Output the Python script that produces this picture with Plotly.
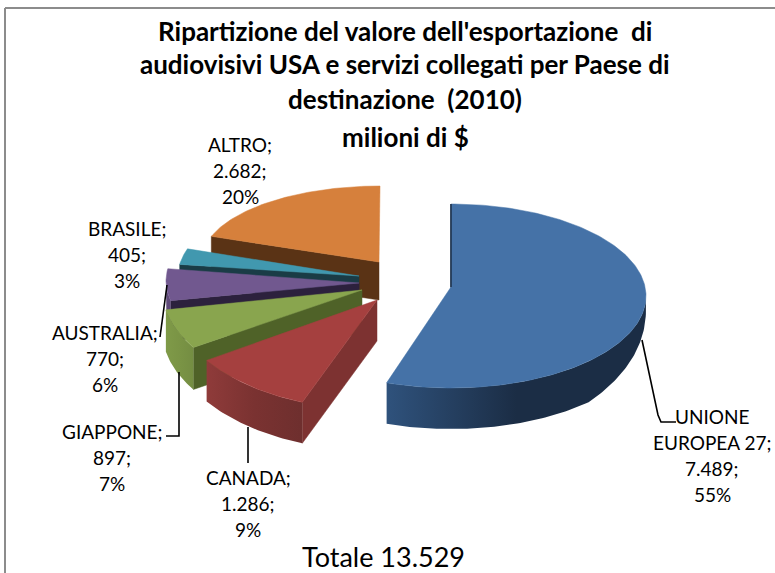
import math
import plotly.graph_objects as go

# --- data ---
categories = ["UNIONE EUROPEA 27", "CANADA", "GIAPPONE", "AUSTRALIA", "BRASILE", "ALTRO"]
values = [7489, 1286, 897, 770, 405, 2682]
value_labels = ["7.489", "1.286", "897", "770", "405", "2.682"]
percent_labels = ["55%", "9%", "7%", "6%", "3%", "20%"]
title_lines = ["Ripartizione del valore dell'esportazione  di",
               "audiovisivi USA e servizi collegati per Paese di",
               "destinazione  (2010)", "milioni di $"]
total_label = "Totale 13.529"

# --- styling / drawing geometry (pixel-based hidden axes) ---
top_colors = ["#4572a7", "#a5403f", "#89a54e", "#71588f", "#4198af", "#d6803c"]
edge_colors = ["#1c3048", "#7d3231", "#4f6228", "#2c213d", "#1a3c46", "#5a3315"]
arc_stops = [["#2f527c", "#1b2d45", "#1b2d45"], ["#8f3b3a", "#7a3231", "#6e2f2e"],
             ["#7f9a48", "#7a9445", "#748d42"], ["#5f4a79", "#5f4a79", "#5f4a79"],
             ["#37808f", "#37808f", "#37808f"], ["#5a3315", "#5a3315", "#5a3315"]]
apex = [(451, 287), (377, 300), (362, 290), (359, 283), (359, 276), (379, 262)]
ellipse = [(451, 296, 195, 92), (369, 289, 202, 120), (322, 288, 160, 100),
           (358, 281, 192, 90), (359, 276, 181, 85), (380, 260, 178, 74)]
depth = [41, 41, 42, 40, 24, 38]
draw_order = [5, 4, 3, 2, 1, 0]

label_pos = [(712, 416), (248, 477), (112, 431), (105, 332), (127, 228), (240, 144)]
label_step = 26
leaders = [([642, 658, 661, 676], [340, 415, 422, 422]),
           ([248, 248], [427, 463]),
           ([179, 179, 166], [372, 436, 436]),
           ([167, 160], [285, 337])]

FONT = "Lato, Carlito, Calibri, sans-serif"
total = sum(values)
bounds = [0.0]
for v in values:
    bounds.append(bounds[-1] + v / total * 360.0)


def pt(i, deg):
    ex, ey, a, b = ellipse[i]
    r = math.radians(deg)
    return ex + a * math.sin(r), ey - b * math.cos(r)


def arc(i, d0, d1):
    n = max(2, int(abs(d1 - d0)) + 1)
    return [pt(i, d0 + (d1 - d0) * k / (n - 1)) for k in range(n)]


def wall_depth(deg, d):
    # the rim wall narrows towards the far right because of the perspective
    return d * min(1.0, 0.3 + 0.7 * (max(deg - 90, 0) / 45) ** 0.8)


def poly(pts, color=None, grad=None):
    xs = [p[0] for p in pts] + [pts[0][0]]
    ys = [p[1] for p in pts] + [pts[0][1]]
    kw = dict(x=xs, y=ys, mode="lines", fill="toself", hoverinfo="skip", showlegend=False)
    if grad:
        lo, hi = min(xs), max(xs)
        kw["fillgradient"] = dict(type="horizontal", start=lo, stop=hi,
                                  colorscale=[[0, grad[0]], [0.5, grad[1]], [1, grad[2]]])
        kw["line"] = dict(width=0)
    else:
        kw["fillcolor"] = color
        kw["line"] = dict(width=0.5, color=color)
    return go.Scatter(**kw)


fig = go.Figure()
for i in draw_order:
    d0, d1 = bounds[i], bounds[i + 1]
    ax, ay = apex[i]
    d = depth[i]
    # radial side wall at the slice's start edge
    ox, oy = pt(i, d0)
    fig.add_trace(poly([(ox, oy), (ax, ay), (ax, ay + d), (ox, oy + d)], edge_colors[i]))
    # outer curved wall
    w0, w1 = max(d0, 90), min(d1, 270)
    if w1 > w0:
        n = max(2, int(w1 - w0) + 1)
        degs = [w0 + (w1 - w0) * k / (n - 1) for k in range(n)]
        upper = [pt(i, g) for g in degs]
        lower = [(pt(i, g)[0], pt(i, g)[1] + wall_depth(g, d)) for g in reversed(degs)]
        fig.add_trace(poly(upper + lower, grad=arc_stops[i]))
    # top face
    fig.add_trace(poly([(ax, ay)] + arc(i, d0, d1), top_colors[i]))
    if i == 0:  # thin dark sliver along the vertical edge
        tx, ty = pt(i, d0)
        fig.add_trace(go.Scatter(x=[tx, ax], y=[ty, ay], mode="lines", hoverinfo="skip",
                                 showlegend=False, line=dict(color=edge_colors[0], width=1.5)))

for lx, ly in leaders:
    fig.add_trace(go.Scatter(x=lx, y=ly, mode="lines", hoverinfo="skip", showlegend=False,
                             line=dict(color="#000000", width=1.6)))

annotations = []
for i, c in enumerate(categories):
    names = ["UNIONE", "EUROPEA 27;"] if i == 0 else [c + ";"]
    lines = names + [value_labels[i] + ";", percent_labels[i]]
    for k, line in enumerate(lines):
        annotations.append(dict(x=label_pos[i][0], y=label_pos[i][1] + k * label_step, text=line,
                                showarrow=False, xanchor="center", yanchor="middle",
                                font=dict(family=FONT, size=19, color="#000000")))
for line, y in zip(title_lines, [31, 64, 99, 137]):
    annotations.append(dict(x=405, y=y, text=f"<b>{line}</b>", showarrow=False,
                            xanchor="center", yanchor="middle",
                            font=dict(family=FONT, size=26, color="#000000")))
annotations.append(dict(x=383, y=556, text=total_label, showarrow=False, xanchor="center",
                        yanchor="middle", font=dict(family=FONT, size=27, color="#000000")))

fig.update_layout(
    width=775, height=573, margin=dict(l=0, r=0, t=0, b=0),
    paper_bgcolor="#ffffff", plot_bgcolor="#ffffff", showlegend=False,
    xaxis=dict(range=[0, 775], visible=False, fixedrange=True),
    yaxis=dict(range=[573, 0], visible=False, fixedrange=True),
    annotations=annotations,
    shapes=[dict(type="line", x0=5, x1=5, y0=8, y1=573, line=dict(color="#8c8c8c", width=2)),
            dict(type="line", x0=5, x1=775, y0=8, y1=8, line=dict(color="#8c8c8c", width=2))],
)
fig.write_html("out.html", config={"displayModeBar": False},
               post_script="document.body.style.margin='0';")
